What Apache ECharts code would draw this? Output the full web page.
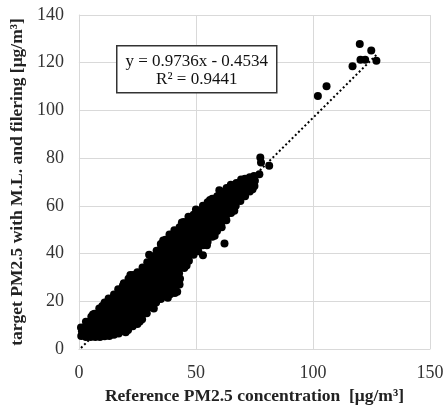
<!DOCTYPE html>
<html>
<head>
<meta charset="utf-8">
<script src="https://cdn.jsdelivr.net/npm/echarts@6/dist/echarts.min.js"></script>
<style>
html,body{margin:0;padding:0;background:#fff;}
#chart{width:448px;height:410px;}
</style>
</head>
<body>
<div id="chart"></div>
<script>
// Reference PM2.5 (x) vs target PM2.5 (y)
const clusterPoints = [
  [1,5.5],[1.3,7.4],[0.9,9],
  [3,5],[2.8,7.2],[3.2,9.4],[3,11.4],
  [5,5],[4.8,7.2],[5.2,9.4],[5,11.5],[5.3,13.5],
  [7,5],[6.8,7.4],[7.2,9.8],[7,12.2],[6.7,14.8],[6,14.5],
  [9,5],[9.3,7.4],[8.8,9.8],[9.1,12.2],[9,14.6],[8.7,17],[10,18],
  [11,5.3],[11.2,7.7],[10.8,10.1],[11,12.5],[11.3,14.9],[10.9,17.3],[11,19.5],
  [13,5.5],[12.8,7.9],[13.2,10.3],[13,12.7],[12.9,15.1],[13.3,17.5],[13,19.7],[12.7,21.2],
  [15,6],[15.2,8.4],[14.8,10.8],[15,13.2],[15.3,15.6],[14.9,18],[15.1,20.4],[15,22.8],
  [17,6.5],[17.2,8.9],[16.8,11.3],[17,13.7],[17.3,16.1],[16.9,18.5],[17.1,20.9],[17,23.2],[16.8,25],
  [19,7.5],[19.2,9.9],[18.8,12.3],[19,14.7],[19.3,17.1],[18.9,19.5],[19.1,21.9],[19,24.3],[18.8,26.5],[19.2,27.6],[20,7],
  [21,8],[21.2,10.4],[20.8,12.8],[21,15.2],[21.3,17.6],[20.9,20],[21.1,22.4],[21,24.8],[20.8,27.2],[21.2,29.4],[22,31],
  [23,9.5],[23.2,11.9],[22.8,14.3],[23,16.7],[23.3,19.1],[22.9,21.5],[23.1,23.9],[23,26.3],[22.8,28.7],[23.2,31],
  [25,10.5],[26,11.5],[24.8,12.9],[25,15.3],[25.3,17.7],[24.9,20.1],[25.1,22.5],[25,24.9],[24.8,27.3],[25.2,29.7],[25,32.2],
  [27,12.5],[27.2,14.9],[26.8,17.3],[27,19.7],[27.3,22.1],[26.9,24.5],[27.1,26.9],[27,29.3],[26.8,31.7],[27.2,34.2],
  [29,15],[29.2,17.4],[28.8,19.8],[29,22.2],[29.3,24.6],[28.9,27],[29.1,29.4],[29,31.8],[28.8,34.2],[29.2,36.4],[30,39.5],
  [31,17.5],[31.2,19.9],[30.8,22.3],[31,24.7],[31.3,27.1],[30.9,29.5],[31.1,31.9],[31,34.3],[30.8,36.7],[31.2,38.9],[32,17],
  [33,19.5],[33.2,21.9],[32.8,24.3],[33,26.7],[33.3,29.1],[32.9,31.5],[33.1,33.9],[33,36.3],[32.8,38.7],[33.2,41.2],
  [35,21],[35.2,23.4],[34.8,25.8],[35,28.2],[35.3,30.6],[34.9,33],[35.1,35.4],[35,37.8],[34.8,40.2],[35.2,42.6],[35,44],[36,45.5],
  [37,22],[37.2,24.4],[36.8,26.8],[37,29.2],[37.3,31.6],[36.9,34],[37.1,36.4],[37,38.8],[36.8,41.2],[37.2,43.6],[37,45.8],[38,21.5],
  [39,23],[39.2,25.4],[38.8,27.8],[39,30.2],[39.3,32.6],[38.9,35],[39.1,37.4],[39,39.8],[38.8,42.2],[39.2,44.6],[39,47],[38.7,48],
  [41,23.5],[41.2,25.9],[40.8,28.3],[41,30.7],[41.3,33.1],[40.9,35.5],[41.1,37.9],[41,40.3],[40.8,42.7],[41.2,45.1],[41,47.5],[40.8,49.8],[42,24],
  [43,27],[43.2,29.4],[42.8,31.8],[43,34.2],[43.3,36.6],[42.9,39],[43.1,41.4],[43,43.8],[42.8,46.2],[43.2,48.6],[43,51],[44,53],
  [45,34],[45.2,36.4],[44.8,38.8],[45,41.2],[45.3,43.6],[44.9,46],[45.1,48.4],[45,50.8],[44.8,53.2],[46,35],
  [47,37],[47.2,39.4],[46.8,41.8],[47,44.2],[47.3,46.6],[46.9,49],[47.1,51.4],[47,53.8],[46.8,55.4],
  [49,39.5],[49.2,41.9],[48.8,44.3],[49,46.7],[49.3,49.1],[48.9,51.5],[49.1,53.9],[49,56.3],[50,58.5],
  [51,41],[53,39.3],[51.2,43.4],[50.8,45.8],[51,48.2],[51.3,50.6],[50.9,53],[51.1,55.4],[51,57.8],
  [53,43.5],[53.2,45.9],[52.8,48.3],[53,50.7],[53.3,53.1],[52.9,55.5],[53.1,57.9],[53,60],[54.7,43.5],
  [55,45],[55.2,47.4],[54.8,49.8],[55,52.2],[55.3,54.6],[54.9,57],[55.1,59.4],[55,61.5],[56,62.5],
  [57,47],[57.2,49.4],[56.8,51.8],[57,54.2],[57.3,56.6],[56.9,59],[57.1,61.4],[57,63],[58,47.5],
  [59,49.5],[59.2,51.9],[58.8,54.3],[59,56.7],[59.3,59.1],[58.9,61.5],[59.1,64],[60,66.5],
  [61,51],[62.2,44.2],[61.2,53.4],[60.8,55.8],[61,58.2],[61.3,60.6],[60.9,63],[61.1,65.6],
  [63,54],[63.2,56.4],[62.8,58.8],[63,61.2],[63.3,63.6],[62.9,66],[63.1,67.5],
  [65,57],[65.2,59.4],[64.8,61.8],[65,64.2],[65.3,66.6],[64.9,68.8],[66.4,58],
  [67,60],[67.2,62.4],[66.8,64.8],[67,67.2],[67.3,69.6],
  [69,62],[69.2,64.4],[68.8,66.8],[69,69.2],[69.3,71],
  [71,64],[71.2,66.5],[70.8,69],[71,71.4],
  [73,66],[73.2,68.5],[72.8,71],[73,72],[74.2,67],
  [75,68.3],[75.2,70.5],[74.8,72.5],
  [77.1,73.3],[77.5,80.3],[77.8,78.2],[81.3,76.8]
];
const highPoints = [
  [102.1,106],[105.8,110.1],[116.9,118.5],[120.3,121.2],[122.3,121.2],
  [127.1,120.8],[124.9,125.1],[120,127.8]
];
const trendSlope = 0.9736;
const trendIntercept = -0.4534;
const rSquared = 0.9441;
const xTicks = [0, 50, 100, 150];
const yTicks = [0, 20, 40, 60, 80, 100, 120, 140];
const xTitle = 'Reference PM2.5 concentration  [\u03bcg/m\u00b3]';
const yTitle = 'target PM2.5 with M.L. and filering [\u03bcg/m\u00b3]';

const allPoints = clusterPoints.concat(highPoints);
const xsAll = allPoints.map(p => p[0]);
const xMinData = Math.min.apply(null, xsAll);
const xMaxData = Math.max.apply(null, xsAll);
const trendData = [xMinData, xMaxData].map(x => [x, trendSlope * x + trendIntercept]);

const serif = '"Liberation Serif", "DejaVu Serif", serif';
const gridColor = '#d9d9d9';

const chart = echarts.init(document.getElementById('chart'), null, {renderer: 'canvas'});
const eqText = 'y = ' + trendSlope.toFixed(4) + 'x - ' + Math.abs(trendIntercept).toFixed(4) + '\nR\u00b2 = ' + rSquared.toFixed(4);

chart.setOption({
  animation: false,
  backgroundColor: '#fff',
  grid: {left: 77, right: 18, top: 15, bottom: 59, containLabel: false},
  xAxis: {
    type: 'value', min: xTicks[0], max: xTicks[xTicks.length - 1], interval: 50,
    name: xTitle, nameLocation: 'middle', nameGap: 38,
    nameTextStyle: {fontFamily: serif, fontSize: 17.5, fontWeight: 'bold', color: '#222'},
    axisLine: {show: true, lineStyle: {color: gridColor, width: 1}},
    axisTick: {show: false},
    axisLabel: {fontFamily: serif, fontSize: 18, color: '#333', margin: 15},
    splitLine: {show: true, lineStyle: {color: gridColor, width: 1}}
  },
  yAxis: {
    type: 'value', min: yTicks[0], max: yTicks[yTicks.length - 1], interval: 20,
    name: yTitle, nameLocation: 'middle', nameGap: 49,
    nameTextStyle: {fontFamily: serif, fontSize: 17.5, fontWeight: 'bold', color: '#222'},
    axisLine: {show: true, lineStyle: {color: gridColor, width: 1}},
    axisTick: {show: false},
    axisLabel: {fontFamily: serif, fontSize: 18, color: '#333', margin: 15},
    splitLine: {show: true, lineStyle: {color: gridColor, width: 1}}
  },
  series: [
    {
      type: 'scatter', data: allPoints, symbol: 'circle', symbolSize: 8,
      itemStyle: {color: '#000', opacity: 1}, silent: true, z: 2
    },
    {
      type: 'line', data: trendData, showSymbol: false, symbol: 'none',
      lineStyle: {color: '#000', width: 2, type: [2, 2.5]}, silent: true, z: 3
    }
  ],
  graphic: [{
    type: 'group', left: 116, top: 45, z: 100,
    children: [
      {type: 'rect', z: 100, shape: {x: 0, y: 0, width: 160, height: 47},
       style: {fill: '#fff', stroke: '#333', lineWidth: 1.5}},
      {type: 'text', z: 101, x: 80, y: 24.5,
       style: {text: eqText, fill: '#111', font: '17px ' + serif,
               align: 'center', verticalAlign: 'middle', lineHeight: 18}}
    ]
  }]
});
</script>
</body>
</html>
